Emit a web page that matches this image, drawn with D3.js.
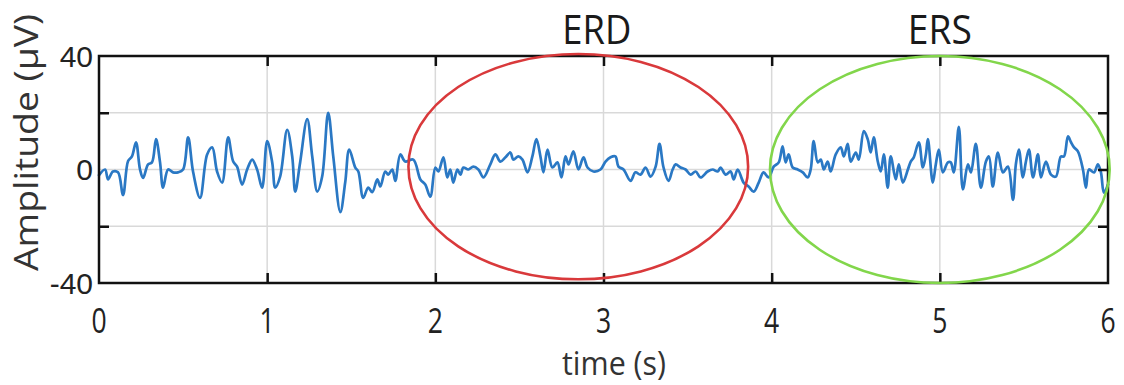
<!DOCTYPE html>
<html>
<head>
<meta charset="utf-8">
<script src="https://cdn.jsdelivr.net/npm/d3@7"></script>
<style>
  html, body { margin: 0; padding: 0; background: #fff; }
  svg { display: block; }
</style>
</head>
<body>
<svg id="chart" width="1124" height="385"></svg>
<script>
// ---- data ----
const time = [
  0.000, 0.036, 0.054, 0.083, 0.113, 0.143, 0.173, 0.196, 0.220, 0.244, 0.262, 0.292, 0.315, 0.339, 0.363, 0.381,
  0.411, 0.440, 0.470, 0.500, 0.530, 0.560, 0.601, 0.643, 0.673, 0.702, 0.732, 0.768, 0.798, 0.821, 0.851, 0.881,
  0.911, 0.940, 0.970, 1.000, 1.030, 1.048, 1.077, 1.119, 1.149, 1.167, 1.196, 1.238, 1.268, 1.298, 1.327, 1.363,
  1.393, 1.435, 1.464, 1.488, 1.524, 1.542, 1.571, 1.601, 1.625, 1.655, 1.673, 1.702, 1.720, 1.744, 1.762, 1.792,
  1.821, 1.869, 1.911, 1.940, 1.970, 2.000, 2.018, 2.048, 2.071, 2.089, 2.107, 2.131, 2.149, 2.167, 2.196, 2.226,
  2.256, 2.286, 2.327, 2.357, 2.387, 2.417, 2.446, 2.464, 2.494, 2.518, 2.548, 2.577, 2.601, 2.625, 2.643, 2.667,
  2.696, 2.726, 2.750, 2.774, 2.792, 2.821, 2.851, 2.881, 2.905, 2.940, 2.982, 3.012, 3.042, 3.071, 3.089, 3.119,
  3.161, 3.190, 3.220, 3.250, 3.280, 3.310, 3.333, 3.357, 3.387, 3.411, 3.429, 3.458, 3.488, 3.518, 3.548, 3.577,
  3.619, 3.649, 3.679, 3.696, 3.726, 3.756, 3.774, 3.798, 3.833, 3.863, 3.893, 3.923, 3.952, 3.982, 4.012, 4.042,
  4.065, 4.083, 4.101, 4.125, 4.155, 4.185, 4.214, 4.232, 4.250, 4.274, 4.292, 4.310, 4.333, 4.351, 4.381, 4.411,
  4.429, 4.452, 4.470, 4.500, 4.518, 4.548, 4.571, 4.589, 4.607, 4.631, 4.649, 4.667, 4.690, 4.708, 4.738, 4.756,
  4.780, 4.810, 4.827, 4.845, 4.875, 4.899, 4.917, 4.929, 4.958, 4.976, 4.994, 5.018, 5.048, 5.065, 5.083, 5.113,
  5.137, 5.167, 5.185, 5.214, 5.244, 5.274, 5.292, 5.315, 5.345, 5.375, 5.405, 5.435, 5.452, 5.470, 5.494, 5.512,
  5.530, 5.554, 5.583, 5.601, 5.631, 5.661, 5.690, 5.720, 5.738, 5.762, 5.780, 5.798, 5.821, 5.851, 5.869, 5.887,
  5.917, 5.940, 5.958, 5.976, 6.000
];
const amplitude = [
  -2.0, 0.0, -3.5, -0.7, -1.0, -9.0, 3.0, 4.6, 9.6, 0.0, -3.0, 1.8, 2.5, 10.7, 2.5, -6.4,
  0.0, -1.0, -1.0, 0.0, 11.3, -1.0, -10.0, 5.3, 7.8, -0.7, -4.6, 11.3, 2.8, 1.0, -5.3, 0.0,
  3.5, 0.0, -6.4, 10.0, 2.5, -6.4, -2.5, 14.0, 4.6, -7.8, 2.5, 17.8, 4.6, -7.8, -2.5, 20.0,
  4.6, -15.0, -4.6, 7.0, 0.7, -0.7, -10.0, -6.4, -8.0, -3.5, -6.0, -0.7, -1.8, 0.0, -4.0, 5.3,
  2.8, 3.5, -3.5, -5.3, -9.6, 0.7, -0.7, 4.3, -2.8, 0.0, -4.6, 0.0, -1.8, 0.7, 0.0, 1.0,
  0.0, -2.8, 1.8, 5.3, 2.8, 4.3, 6.0, 3.5, 4.6, 3.5, -1.0, 4.6, 10.7, 4.6, -1.0, 7.0,
  0.7, 2.5, -2.8, 4.6, 1.8, 6.4, 0.0, 4.3, 0.7, -0.7, 0.0, 2.8, 4.3, 4.6, 1.0, 0.0,
  -4.0, -1.0, -1.8, 0.7, -2.5, 1.0, 9.0, 0.7, -4.0, 0.0, 1.8, 0.7, 0.0, -1.8, -0.7, -2.8,
  -0.7, 0.0, -0.7, 0.7, -1.8, -0.7, -3.5, 0.0, -4.6, -6.0, -7.8, -4.6, -1.0, -2.8, 1.0, 2.5,
  8.2, 2.5, 5.3, 0.7, 0.0, -1.0, -2.8, 0.0, 10.0, 2.5, 3.5, 0.0, 2.8, -0.7, 5.3, 7.8,
  4.6, 9.0, 2.8, 6.0, 3.5, 13.5, 10.7, 6.0, 11.3, 2.8, -0.7, 5.3, -6.4, 4.6, -3.5, 1.8,
  -4.6, 0.0, 2.8, 4.3, 9.6, 0.7, 5.3, 10.7, -4.6, 1.8, 7.0, -1.0, 2.5, 2.5, -1.0, 15.0,
  -7.0, 1.8, -1.0, 9.0, -6.4, 2.8, 4.6, -6.0, 6.0, -1.0, 1.0, -10.7, 1.8, 7.0, -2.8, 2.8,
  7.0, -2.8, 5.3, -2.8, 2.8, -1.8, -2.5, 4.6, 4.6, 11.7, 9.6, 7.8, 6.4, 0.0, -6.4, 0.0,
  -1.0, 1.8, -1.0, -8.2, -5.3
];
const xTicks = [0, 1, 2, 3, 4, 5, 6];
const yTicks = [-40, 0, 40];
const yGrid = [-20, 0, 20];
const annotationLabels = ["ERD", "ERS"];
const annotationLabelTime = [2.96, 5.0];
const annotationCenterTime = [2.85, 5.0];
const annotationCenterAmp = [1.0, 0.0];
const annotationHalfWidth = [1.01, 1.01];
const annotationHalfHeight = [39.7, 40.0];
const xLabel = "time (s)";
const yLabel = "Amplitude (μV)";

// ---- drawing ----
const svg = d3.select("#chart");
const x = d3.scaleLinear().domain([0, 6]).range([99, 1108]);
const y = d3.scaleLinear().domain([-40, 40]).range([283, 56]);

// grid
svg.append("g").selectAll("line").data(xTicks.slice(1, -1)).join("line")
  .attr("x1", d => x(d)).attr("x2", d => x(d))
  .attr("y1", y(40)).attr("y2", y(-40))
  .attr("stroke", "#d9d9d9").attr("stroke-width", 1.5);
svg.append("g").selectAll("line").data(yGrid).join("line")
  .attr("x1", x(0)).attr("x2", x(6))
  .attr("y1", d => y(d)).attr("y2", d => y(d))
  .attr("stroke", "#d9d9d9").attr("stroke-width", 1.5);

// signal
const pts = time.map((t, i) => [t, amplitude[i]]);
svg.append("path")
  .datum(pts)
  .attr("fill", "none")
  .attr("stroke", "#2a78c4")
  .attr("stroke-width", 2.7)
  .attr("stroke-linejoin", "round")
  .attr("stroke-linecap", "round")
  .attr("d", d3.line().x(d => x(d[0])).y(d => y(d[1])).curve(d3.curveCatmullRom.alpha(0.5)));

// axes (MATLAB-like box with inward ticks)
const tickLen = 10;
const axL = d3.axisLeft(y).tickValues([-20, 20]).tickSize(-tickLen).tickFormat("");
const axR = d3.axisRight(y).tickValues([-20, 0, 20]).tickSize(-tickLen).tickFormat("");
const axB = d3.axisBottom(x).tickValues([1, 2, 3, 4, 5]).tickSize(-tickLen).tickFormat("");
const axT = d3.axisTop(x).tickValues([1, 2, 3, 4, 5]).tickSize(-tickLen).tickFormat("");
function styleAx(g) {
  g.selectAll("path").remove();
  g.selectAll("line").attr("stroke", "#111").attr("stroke-width", 2.5);
}
svg.append("g").attr("transform", `translate(${x(0)},0)`).call(axL).call(styleAx);
svg.append("g").attr("transform", `translate(${x(6)},0)`).call(axR).call(styleAx);
svg.append("g").attr("transform", `translate(0,${y(-40)})`).call(axB).call(styleAx);
svg.append("g").attr("transform", `translate(0,${y(40)})`).call(axT).call(styleAx);
svg.append("rect")
  .attr("x", x(0)).attr("y", y(40))
  .attr("width", x(6) - x(0)).attr("height", y(-40) - y(40))
  .attr("fill", "none").attr("stroke", "#111").attr("stroke-width", 2.5);

// y tick labels
svg.append("g").selectAll("text").data(yTicks).join("text")
  .attr("x", x(0) - 6).attr("y", d => y(d))
  .attr("dy", "0.36em")
  .attr("text-anchor", "end")
  .attr("font-family", "Liberation Sans, Arial, sans-serif")
  .attr("font-size", 30)
  .attr("fill", "#222")
  .text(d => d);

// x tick labels (narrow)
svg.append("g").selectAll("text").data(xTicks).join("text")
  .attr("transform", d => `translate(${x(d)},333) scale(0.78,1)`)
  .attr("text-anchor", "middle")
  .attr("font-family", "Open Sans, sans-serif")
  .attr("font-size", 34)
  .attr("fill", "#222")
  .text(d => d);

// axis titles
svg.append("text")
  .attr("x", 562).attr("y", 375)
  .attr("textLength", 104).attr("lengthAdjust", "spacingAndGlyphs")
  .attr("font-family", "Open Sans, sans-serif")
  .attr("font-size", 33)
  .attr("fill", "#333")
  .text(xLabel);
svg.append("text")
  .attr("transform", "translate(38,271) rotate(-90)")
  .attr("textLength", 257).attr("lengthAdjust", "spacingAndGlyphs")
  .attr("font-family", "Open Sans, sans-serif")
  .attr("font-size", 32)
  .attr("fill", "#333")
  .text(yLabel);

// annotation ellipses
const ellColors = ["#d9393b", "#82d64b"];
svg.append("g").selectAll("ellipse").data(annotationLabels).join("ellipse")
  .attr("cx", (d, i) => x(annotationCenterTime[i]))
  .attr("cy", (d, i) => y(annotationCenterAmp[i]))
  .attr("rx", (d, i) => x(annotationHalfWidth[i]) - x(0))
  .attr("ry", (d, i) => y(0) - y(annotationHalfHeight[i]))
  .attr("fill", "none")
  .attr("stroke", (d, i) => ellColors[i])
  .attr("stroke-width", 2.6);

const labelLens = [69, 64];
svg.append("g").selectAll("text").data(annotationLabels).join("text")
  .attr("x", (d, i) => x(annotationLabelTime[i]))
  .attr("y", 44)
  .attr("text-anchor", "middle")
  .attr("textLength", (d, i) => labelLens[i]).attr("lengthAdjust", "spacingAndGlyphs")
  .attr("font-family", "Open Sans, sans-serif")
  .attr("font-size", 40)
  .attr("fill", "#1a1a1a")
  .text(d => d);
</script>
</body>
</html>
